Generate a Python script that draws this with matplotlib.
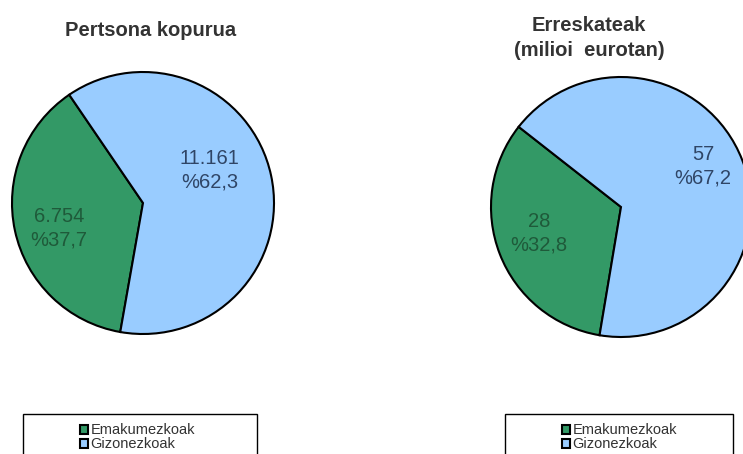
import matplotlib
matplotlib.use("Agg")
import matplotlib.pyplot as plt
from matplotlib.patches import Rectangle, Patch

plt.rcParams["font.family"] = ["Liberation Sans", "DejaVu Sans"]

categories = ["Emakumezkoak", "Gizonezkoak"]
persons = [6754, 11161]
persons_labels = ["6.754\n%37,7", "11.161\n%62,3"]
rescues = [28, 57]
rescues_pct = [32.8, 67.2]
rescues_labels = ["28\n%32,8", "57\n%67,2"]
titles = ["Pertsona kopurua", "Erreskateak\n(milioi  eurotan)"]

colors = ["#339966", "#99CCFF"]
text_colors = ["#1F5A3A", "#2F4566"]

W, H = 743, 454
fig = plt.figure(figsize=(W / 100, H / 100), dpi=100)


def pie_axes(cx, cy, r):
    # cx, cy, r in pixels, cy from top
    ax = fig.add_axes([(cx - r) / W, (H - cy - r) / H, 2 * r / W, 2 * r / H])
    ax.axis("off")
    return ax


def draw_pie(ax, values, labels, start, label_pos):
    wedges, _ = ax.pie(values, colors=colors, startangle=start, counterclock=True,
                       radius=1.0, wedgeprops=dict(edgecolor="black", linewidth=1.5))
    for w in wedges:
        w.set_clip_on(False)
    ax.set_xlim(-1, 1)
    ax.set_ylim(-1, 1)
    ax.set_aspect("equal")
    for lab, (x, y), c in zip(labels, label_pos, text_colors):
        ax.text(x, y, lab, ha="center", va="center", fontsize=14.5, color=c,
                linespacing=1.3)


ax1 = pie_axes(143, 203, 131)
share1 = persons[0] / sum(persons)
draw_pie(ax1, persons, persons_labels, 260 - 360 * share1,
         [(-0.64, -0.19), (0.51, 0.25)])

ax2 = pie_axes(621, 207, 130)
draw_pie(ax2, rescues, rescues_labels, 260 - 360 * rescues_pct[0] / 100,
         [(-0.63, -0.2), (0.63, 0.31)])

fig.text(151 / W, 1 - 30 / H, titles[0], ha="center", va="center",
         fontsize=14.5, fontweight="bold", color="#333333")
fig.text(589 / W, 1 - 38 / H, titles[1], ha="center", va="center",
         fontsize=14.5, fontweight="bold", color="#333333", linespacing=1.45)

# legends: boxes run past the bottom edge
handles = [Patch(facecolor=c, edgecolor="black", linewidth=1.5) for c in colors]
for x0, x1, mx in [(23, 257, 73), (505, 733, 555)]:
    fig.patches.append(Rectangle((x0 / W, -0.05), (x1 - x0) / W, 0.05 + (H - 414) / H,
                                 transform=fig.transFigure, facecolor="white",
                                 edgecolor="black", linewidth=1.0))
    fig.legend(handles, categories, loc="upper left",
               bbox_to_anchor=(mx / W, 1 - 416 / H), frameon=False,
               fontsize=10.5, handlelength=0.55, handleheight=0.55,
               handletextpad=0.15, labelspacing=0.0, borderpad=0.0,
               labelcolor="#333333")

fig.savefig("out.png", dpi=100)
